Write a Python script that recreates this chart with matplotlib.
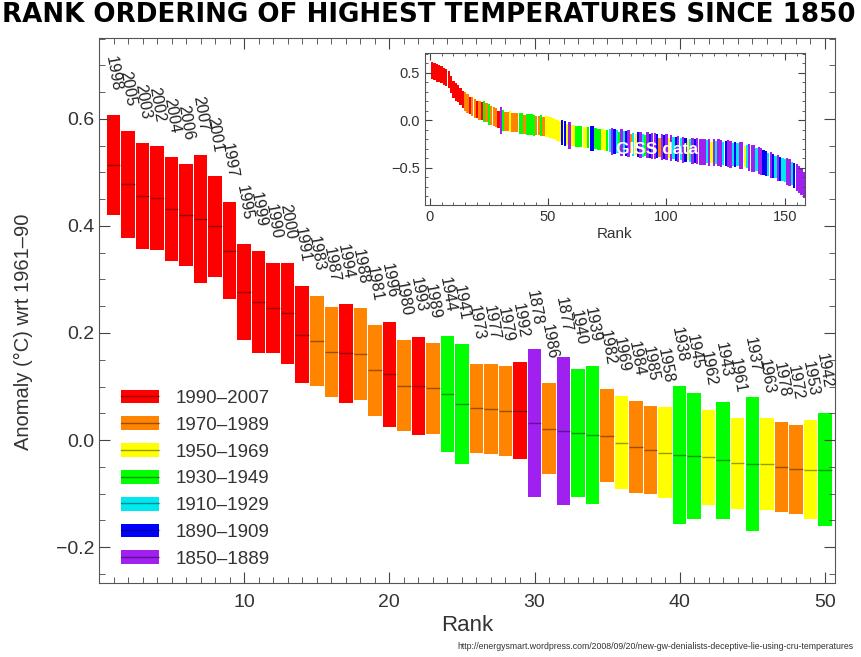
import numpy as np
import matplotlib
matplotlib.use("Agg")
import matplotlib.pyplot as plt
from matplotlib.patches import Patch
from matplotlib.lines import Line2D
from matplotlib.ticker import MultipleLocator

plt.rcParams['font.family'] = ['Liberation Sans', 'DejaVu Sans']

# --- main panel: top 50 years (HadCRUT), anomaly range of each year ---
years = [1998, 2005, 2003, 2002, 2004, 2006, 2007, 2001, 1997, 1995,
         1999, 1990, 2000, 1991, 1983, 1987, 1994, 1988, 1981, 1996,
         1980, 1993, 1989, 1944, 1941, 1973, 1977, 1979, 1992, 1878,
         1986, 1877, 1940, 1939, 1982, 1969, 1984, 1985, 1958, 1938,
         1945, 1962, 1943, 1961, 1937, 1963, 1978, 1972, 1953, 1942]
upper = [0.607, 0.578, 0.555, 0.550, 0.528, 0.515, 0.533, 0.493, 0.445, 0.366,
         0.353, 0.331, 0.331, 0.287, 0.270, 0.249, 0.255, 0.246, 0.215, 0.220,
         0.186, 0.193, 0.181, 0.194, 0.179, 0.142, 0.142, 0.138, 0.146, 0.170,
         0.106, 0.156, 0.132, 0.138, 0.095, 0.082, 0.073, 0.064, 0.061, 0.101,
         0.087, 0.056, 0.072, 0.042, 0.081, 0.041, 0.034, 0.029, 0.037, 0.051]
lower = [0.421, 0.378, 0.357, 0.355, 0.335, 0.326, 0.293, 0.305, 0.263, 0.186,
         0.163, 0.162, 0.142, 0.107, 0.101, 0.081, 0.069, 0.075, 0.045, 0.025,
         0.016, 0.009, 0.012, -0.022, -0.045, -0.024, -0.026, -0.029, -0.036, -0.106,
         -0.064, -0.121, -0.106, -0.120, -0.079, -0.092, -0.098, -0.100, -0.108, -0.156,
         -0.148, -0.121, -0.148, -0.128, -0.170, -0.130, -0.134, -0.138, -0.148, -0.161]

periods = ['1990-2007', '1970-1989', '1950-1969', '1930-1949',
           '1910-1929', '1890-1909', '1850-1889']
period_start = [1990, 1970, 1950, 1930, 1910, 1890, 1850]
period_colors = ['#ff0000', '#ff8400', '#ffff00', '#00ff00',
                 '#00e8f0', '#0000ff', '#a020f0']

# --- inset: all 158 years (GISS), centre of each ranked year ---
inset_centre = [0.53, 0.52, 0.50, 0.49, 0.48, 0.46, 0.45, 0.43, 0.38, 0.33,
                0.30, 0.28, 0.25, 0.22, 0.20, 0.18, 0.16, 0.15, 0.13, 0.12,
                0.11, 0.10, 0.09, 0.08, 0.06, 0.05, 0.04, 0.03, 0.01, 0.00,
                0.00, -0.01, -0.01, -0.01, -0.02, -0.02, -0.02, -0.03, -0.03, -0.04,
                -0.04, -0.04, -0.04, -0.05, -0.05, -0.05, -0.05, -0.06, -0.06, -0.06,
                -0.07, -0.08, -0.09, -0.11, -0.12, -0.13, -0.14, -0.15, -0.16, -0.16,
                -0.16, -0.17, -0.17, -0.17, -0.18, -0.18, -0.18, -0.19, -0.19, -0.19,
                -0.20, -0.20, -0.20, -0.21, -0.21, -0.21, -0.22, -0.22, -0.22, -0.23,
                -0.23, -0.23, -0.24, -0.24, -0.24, -0.25, -0.25, -0.25, -0.26, -0.26,
                -0.26, -0.26, -0.27, -0.27, -0.27, -0.27, -0.28, -0.28, -0.28, -0.28,
                -0.29, -0.29, -0.29, -0.30, -0.30, -0.30, -0.31, -0.31, -0.31, -0.32,
                -0.32, -0.32, -0.32, -0.33, -0.33, -0.33, -0.33, -0.34, -0.34, -0.34,
                -0.34, -0.34, -0.35, -0.35, -0.35, -0.35, -0.36, -0.36, -0.36, -0.36,
                -0.37, -0.37, -0.38, -0.38, -0.39, -0.40, -0.40, -0.41, -0.42, -0.43,
                -0.44, -0.45, -0.46, -0.47, -0.48, -0.49, -0.50, -0.51, -0.52, -0.53,
                -0.54, -0.55, -0.56, -0.58, -0.60, -0.62, -0.64, -0.68]
# period of each ranked year: R O Y G C B P
inset_period = ("RRRRRRRRRRRRRR" "OOROOROR" "GOG" "OOOR" "PGO" "OYOOO" "GGOGGGG"
                "OOGO" "YYYYYYY" "BBY" "PYY" "GGGYYG" "BB" "GGGYYG"
                "CPBCGPCBPOCYBPCG" "PBPPBOPBPY" "PCBPCPBYCPBP" "PPPCPYP"
                "CPPCBPPCBCPPYC" "PPPCPPB" "BCPBCPBCCPPCBP" "PPP")
inset_halfrange = {'R': 0.09, 'O': 0.10, 'Y': 0.11, 'G': 0.11,
                   'C': 0.12, 'B': 0.13, 'P': 0.14}
code_color = dict(zip("ROYGCBP", period_colors))


def period_color(y):
    for start, col in zip(period_start, period_colors):
        if y >= start:
            return col
    return period_colors[-1]


rank = np.arange(1, len(years) + 1)
upper = np.array(upper)
lower = np.array(lower)
mid = (upper + lower) / 2
colors = [period_color(y) for y in years]

fig = plt.figure(figsize=(8.61, 6.57), dpi=100)
ax = fig.add_axes([99 / 861, 74 / 657, 736 / 861, 545 / 657])

w = 0.93
ax.bar(rank, upper - lower, bottom=lower, width=w, color=colors, linewidth=0)
ax.hlines(mid, rank - w / 2, rank + w / 2, colors='k', alpha=0.4, lw=1)

for r, y, t in zip(rank, years, upper):
    ax.text(r + 0.2, t + 0.045, str(y), rotation=-80, rotation_mode='anchor',
            ha='right', va='center', fontsize=11.5, color='#222222')

ax.set_xlim(0, 50.7)
ax.set_ylim(-0.267, 0.751)
ax.xaxis.set_minor_locator(MultipleLocator(1))
ax.yaxis.set_minor_locator(MultipleLocator(0.05))
ax.set_xticks([10, 20, 30, 40, 50])
ax.set_yticks([-0.2, 0.0, 0.2, 0.4, 0.6])
ax.set_yticklabels(['\u22120.2', '0.0', '0.2', '0.4', '0.6'])
ax.tick_params(which='both', direction='in', top=True, right=True, colors='#444444',
               labelcolor='#333333')
ax.tick_params(which='major', length=8, labelsize=14)
ax.tick_params(axis='x', which='major', pad=8)
ax.tick_params(which='minor', length=4)
for s in ax.spines.values():
    s.set_color('#555555')
ax.set_xlabel('Rank', fontsize=16, color='#333333', labelpad=3)
ax.set_ylabel('Anomaly (\u00b0C) wrt 1961\u201390', fontsize=14.5, color='#333333')
ax.yaxis.set_label_coords(-0.09, 0.46)

handles = [(Patch(facecolor=c, edgecolor='none'), Line2D([], [], color='k', alpha=0.4, lw=1))
           for c in period_colors]
ax.legend(handles, [p.replace('-', '\u2013') for p in periods], loc='lower left',
          bbox_to_anchor=(0.03, 0.028), borderaxespad=0, borderpad=0, frameon=False,
          fontsize=13.5, handlelength=2.0, handleheight=0.75, handletextpad=0.9,
          labelspacing=0.5, labelcolor='#333333')

# inset
axi = fig.add_axes([425 / 861, 452 / 657, 380 / 861, 152 / 657])
ir = np.arange(1, len(inset_centre) + 1)
ic = np.array(inset_centre)
ih = np.array([inset_halfrange[c] for c in inset_period])
axi.bar(ir, 2 * ih, bottom=ic - ih, width=0.95, linewidth=0,
        color=[code_color[c] for c in inset_period])
axi.set_xlim(-2, 158.5)
axi.set_ylim(-0.89, 0.71)
axi.xaxis.set_major_locator(MultipleLocator(50))
axi.xaxis.set_minor_locator(MultipleLocator(5))
axi.yaxis.set_minor_locator(MultipleLocator(0.1))
axi.set_yticks([-0.5, 0.0, 0.5])
axi.set_yticklabels(['\u22120.5', '0.0', '0.5'])
axi.tick_params(which='both', direction='in', top=True, right=True, colors='#444444',
                labelcolor='#333333', labelsize=10.5)
axi.tick_params(which='major', length=5)
axi.tick_params(which='minor', length=2.5)
for s in axi.spines.values():
    s.set_color('#555555')
axi.set_xlabel('Rank', fontsize=11, color='#333333', labelpad=2)
axi.text(96, -0.31, 'GISS data', color='white', fontsize=12.5, fontweight='bold',
         ha='center', va='center')

fig.text(0.002, 0.977, 'RANK ORDERING OF HIGHEST TEMPERATURES SINCE 1850',
         fontsize=18.8, fontweight='heavy', family='DejaVu Sans', ha='left', va='center')
fig.text(0.991, 0.016,
         'http://energysmart.wordpress.com/2008/09/20/new-gw-denialists-deceptive-lie-using-cru-temperatures',
         fontsize=6.3, color='#333333', ha='right', va='center')

fig.savefig('out.png', dpi=100)
